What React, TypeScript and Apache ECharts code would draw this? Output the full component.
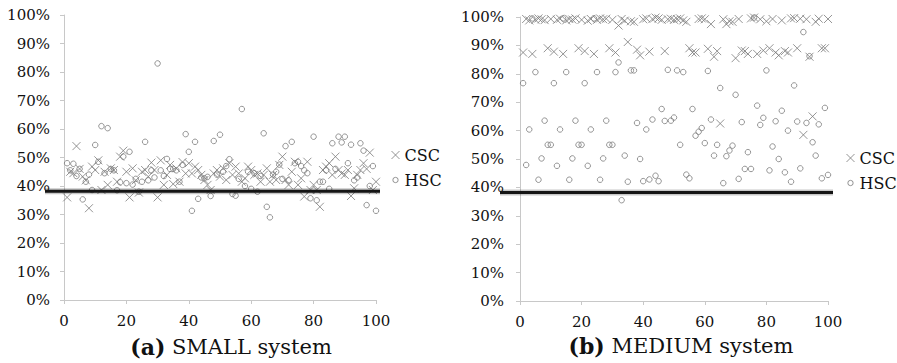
import React, { useEffect, useRef } from "react";
import * as echarts from "echarts";

const Y_TICKS = [0, 10, 20, 30, 40, 50, 60, 70, 80, 90, 100];
const X_TICKS = [0, 20, 40, 60, 80, 100];
const THRESHOLD = 38.2;

const CSC_SMALL = [
  36, 45, 44.5, 54, 46, 43.3, 42, 32.2, 46.8, 45.6,
  49, 38.6, 45, 40.4, 46.2, 45.6, 41.5, 50.3, 52.4, 45,
  36, 46.2, 42, 37.7, 45, 45.6, 43.3, 48.2, 45.6, 36,
  49, 40.4, 43.9, 47.4, 40.7, 46.2, 41.5, 48.4, 44.4, 48,
  44.4, 46.8, 45.6, 43.9, 42.1, 40.4, 38.6, 44.4, 45.6, 43.3,
  46.2, 42.1, 48, 43.9, 46.8, 44.4, 41.5, 42.7, 46.8, 45.6,
  43.9, 44.4, 41.5, 43.9, 46.2, 41.5, 43.9, 42.1, 47.4, 50.3,
  42.1, 40.4, 45, 48.5, 40.4, 42.7, 36.3, 48.5, 38.6, 40.4,
  38.6, 32.7, 45.6, 46.8, 48, 43.9, 50.3, 45.6, 44.4, 43.9,
  45.6, 36.5, 39.2, 43.9, 45.6, 48, 46, 51.7, 38.6, 41.5,
];

const HSC_SMALL = [
  48, 45.5, 47.8, 43.5, 46, 35.3, 41.5, 44, 38.6, 54.4,
  48.5, 61, 44.5, 60.3, 46, 45.5, 38.5, 41.3, 50.3, 41,
  52, 40.5, 42.5, 38, 41.5, 55.5, 42, 45.5, 43, 83,
  45.5, 43.5, 49.5, 46, 46, 45.5, 41.5, 47.4, 58.2, 52,
  31.3, 55.5, 35.5, 43, 42.7, 43.2, 36.5, 55.8, 44, 58,
  45, 47, 49.4, 37.2, 36.6, 42.5, 67, 40, 45, 39,
  44.5, 38, 43.5, 58.5, 32.7, 29, 44, 45, 47.5, 42.5,
  54, 42, 55.5, 48, 48.5, 47, 45.5, 44.5, 35.7, 57.3,
  35, 41.5, 41.5, 45.5, 39, 55, 46, 57.3, 55.3, 57.3,
  48, 54.5, 42, 43, 55, 52.4, 33.3, 40, 47, 31.3,
];

const CSC_MEDIUM = [
  87.5, 99.3, 98.8, 87, 99, 99.5, 99.2, 98.9, 89, 99.3,
  87.8, 99, 99.4, 87, 98.8, 99.3, 99.1, 99.5, 89, 99,
  88, 98.7, 99.3, 87, 99, 99.5, 99.2, 99.4, 89, 99,
  87.5, 97, 99.3, 98.7, 91.2, 98.5, 98.3, 88.5, 86.5, 99.2,
  99.5, 87.8, 99.3, 99.8, 99.5, 99, 88, 99.2, 99.4, 99,
  99.3, 99.5, 98.8, 98.3, 89, 87.5, 87.5, 99.3, 99.5, 99.2,
  88.8, 97.5, 86, 88, 62.5, 99.2, 97.5, 98.5, 98.3, 85.5,
  99.3, 88.2, 88, 87, 99.5, 99.8, 87, 99.2, 88.2, 98.5,
  89, 99.3, 87.5, 86.5, 98.8, 88, 87.5, 99.5, 99.6, 89,
  99.4, 58.5, 99.2, 86, 65, 98.3, 99.4, 89, 89, 99.3,
];

const HSC_MEDIUM = [
  76.7, 47.9, 60.4, 99.5, 80.6, 42.7, 50.2, 63.5, 55, 55,
  76.7, 47.6, 60.4, 99.5, 80.6, 42.7, 50.2, 63.5, 55, 55,
  76.7, 47.6, 60.4, 99.5, 80.6, 42.7, 50.2, 63.5, 55, 55,
  80.6, 84, 35.5, 51.2, 42, 81.2, 81.2, 62.7, 50, 42.2,
  60.4, 42.8, 63.9, 44.1, 42.2, 67.6, 63.4, 81.4, 63.5, 64.6,
  81.2, 55, 80.6, 44.5, 43.2, 67.6, 58.2, 59.6, 60.9, 55.6,
  81, 63.9, 51.2, 55, 75, 41.5, 51, 53, 54.7, 72.6,
  43, 63, 46.5, 52.4, 46.5, 99.8, 68.8, 62, 64.5, 81.2,
  46, 54.4, 63.3, 50, 67, 45.3, 60, 42, 75.9, 63.2,
  46.7, 94.7, 62.7, 86.2, 55.9, 51.2, 62.2, 43.2, 68, 44.4,
];

const CROSS = "path://M0,0L10,10M10,0L0,10";
const RING = "path://M0,0M12,12M10,6A4,4,0,1,1,2,6A4,4,0,1,1,10,6Z";
const SERIF = "'DejaVu Serif', 'Liberation Serif', serif";
const MARK = "#7a7a7a";

const toPts = (arr: number[]) => arr.map((v, i) => [i + 1, v]);

export default function App() {
  const ref = useRef<HTMLDivElement>(null);
  useEffect(() => {
    if (!ref.current) return;
    const chart = echarts.init(ref.current, null, { renderer: "svg" });

    const grids = [
      { left: 64, top: 15, width: 312, height: 285 },
      { left: 520, top: 17, width: 308, height: 284 },
      // wider hidden grids carrying the threshold line across the axis
      { left: 45, top: 15, width: 335, height: 285 },
      { left: 500, top: 17, width: 333, height: 284 },
    ];

    const xAxis: any[] = [0, 1].map((k) => ({
      type: "value",
      gridIndex: k,
      min: X_TICKS[0],
      max: X_TICKS[X_TICKS.length - 1],
      interval: 20,
      axisLine: { show: true, lineStyle: { color: "#c8c8c8", width: 1 } },
      axisTick: { show: true, length: 4, lineStyle: { color: "#c8c8c8" } },
      splitLine: { show: false },
      axisLabel: { margin: 13, color: "#111", fontFamily: SERIF, fontSize: 15 },
    }));
    const yAxis: any[] = [0, 1].map((k) => ({
      type: "value",
      gridIndex: k,
      min: Y_TICKS[0],
      max: Y_TICKS[Y_TICKS.length - 1],
      interval: 10,
      axisLine: { show: true, lineStyle: { color: "#c8c8c8", width: 1 } },
      axisTick: { show: true, length: 4, lineStyle: { color: "#c8c8c8" } },
      splitLine: { show: false },
      axisLabel: {
        margin: k === 0 ? 14 : 16,
        color: "#111",
        fontFamily: SERIF,
        fontSize: 15,
        formatter: "{value}%",
      },
    }));
    [2, 3].forEach((k) => {
      xAxis.push({ type: "value", gridIndex: k, min: 0, max: 1, show: false });
      yAxis.push({ type: "value", gridIndex: k, min: 0, max: 100, show: false });
    });

    const cscStyle = { color: "none", borderColor: MARK, borderWidth: 1 };
    const hscStyle = { color: "rgba(0,0,0,0)", borderColor: MARK, borderWidth: 1 };

    const sets = [
      { csc: CSC_SMALL, hsc: HSC_SMALL },
      { csc: CSC_MEDIUM, hsc: HSC_MEDIUM },
    ];

    const series: any[] = [];
    sets.forEach((s, k) => {
      series.push({
        name: "CSC",
        type: "scatter",
        xAxisIndex: k,
        yAxisIndex: k,
        data: toPts(s.csc),
        symbol: CROSS,
        symbolSize: 8,
        itemStyle: cscStyle,
      });
      series.push({
        name: "HSC",
        type: "scatter",
        xAxisIndex: k,
        yAxisIndex: k,
        data: toPts(s.hsc),
        symbol: "circle",
        symbolSize: 5.5,
        itemStyle: hscStyle,
      });
      const lineData = [
        [0, THRESHOLD],
        [1, THRESHOLD],
      ];
      series.push({
        type: "line",
        xAxisIndex: k + 2,
        yAxisIndex: k + 2,
        data: lineData,
        symbol: "none",
        showSymbol: false,
        silent: true,
        lineStyle: { color: "rgba(0,0,0,0.22)", width: 6 },
        z: 4,
      });
      series.push({
        type: "line",
        xAxisIndex: k + 2,
        yAxisIndex: k + 2,
        data: lineData,
        symbol: "none",
        showSymbol: false,
        silent: true,
        lineStyle: { color: "#151515", width: 3 },
        z: 5,
      });
    });

    const legendBase = {
      orient: "vertical",
      itemWidth: 8,
      itemHeight: 8,
      itemGap: 9,
      padding: 0,
      selectedMode: false,
      textStyle: { fontFamily: SERIF, fontSize: 16, color: "#111" },
      data: [
        { name: "CSC", icon: CROSS, itemStyle: cscStyle },
        { name: "HSC", icon: RING, itemStyle: hscStyle },
      ],
    };

    chart.setOption({
      animation: false,
      backgroundColor: "#ffffff",
      grid: grids,
      xAxis,
      yAxis,
      legend: [
        { ...legendBase, left: 389, top: 147 },
        { ...legendBase, left: 844, top: 150 },
      ],
      series,
      graphic: [
        {
          type: "text",
          x: 231,
          y: 347,
          style: {
            text: "{b|(a)} SMALL system",
            align: "center",
            verticalAlign: "middle",
            fontFamily: SERIF,
            fontSize: 21,
            fill: "#111",
            rich: { b: { fontWeight: "bold", fontFamily: SERIF, fontSize: 22, fill: "#111" } },
          },
        },
        {
          type: "text",
          x: 681,
          y: 346,
          style: {
            text: "{b|(b)} MEDIUM system",
            align: "center",
            verticalAlign: "middle",
            fontFamily: SERIF,
            fontSize: 21,
            fill: "#111",
            rich: { b: { fontWeight: "bold", fontFamily: SERIF, fontSize: 22, fill: "#111" } },
          },
        },
      ],
    });
    return () => chart.dispose();
  }, []);

  return (
    <div
      ref={ref}
      style={{ position: "absolute", left: 0, top: 0, width: 897, height: 363, background: "#fff" }}
    />
  );
}
